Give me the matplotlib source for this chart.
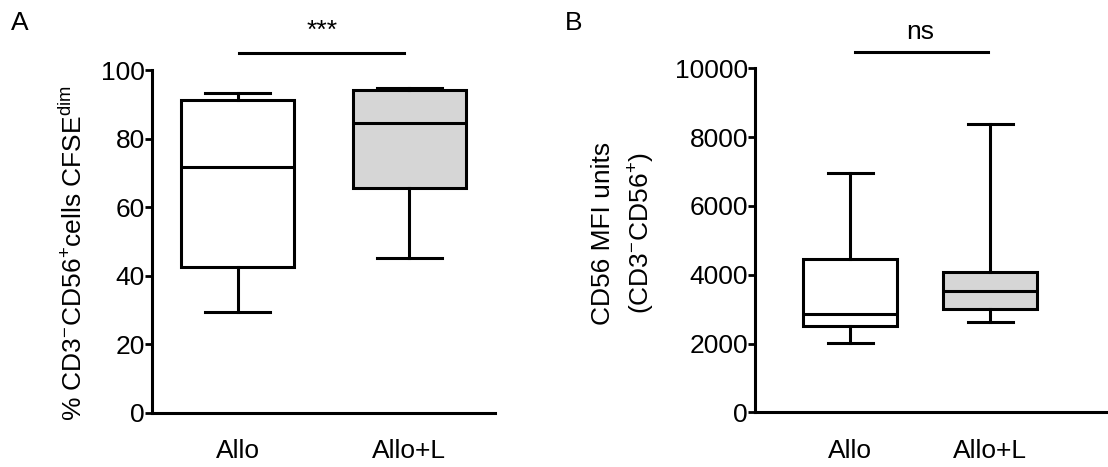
import matplotlib
matplotlib.use('Agg')
import matplotlib.pyplot as plt

plt.rcParams['font.family'] = ['Liberation Sans', 'DejaVu Sans']

groups = ['Allo', 'Allo+L']

# panel A: % CD3-CD56+ cells CFSE dim (whislo, q1, med, q3, whishi)
a_allo = [29.5, 42.4, 71.8, 91.2, 93.2]
a_allol = [45.2, 65.7, 84.6, 94.2, 94.7]

# panel B: CD56 MFI units
b_allo = [2006, 2509, 2849, 4456, 6948]
b_allol = [2625, 2994, 3526, 4087, 8390]

fills = ['white', '#d6d6d6']
FS = 19


def stats(vals, label):
    lo, q1, med, q3, hi = vals
    return dict(label=label, whislo=lo, q1=q1, med=med, q3=q3, whishi=hi, fliers=[])


def draw(ax, data, width, capw):
    lw = 2.2
    bp = ax.bxp([stats(v, g) for v, g in zip(data, groups)], positions=[1, 2],
                widths=width, patch_artist=True, showfliers=False,
                capwidths=capw,
                boxprops=dict(linewidth=lw, edgecolor='black'),
                medianprops=dict(color='black', linewidth=lw),
                whiskerprops=dict(color='black', linewidth=lw),
                capprops=dict(color='black', linewidth=lw))
    for patch, c in zip(bp['boxes'], fills):
        patch.set_facecolor(c)
    for s in ['top', 'right']:
        ax.spines[s].set_visible(False)
    for s in ['left', 'bottom']:
        ax.spines[s].set_linewidth(2.2)
    ax.tick_params(axis='y', labelsize=FS, width=2, length=5, pad=0)
    ax.tick_params(axis='x', labelsize=FS, length=0, pad=19)


fig = plt.figure(figsize=(11.08, 4.67), dpi=100)

axA = fig.add_axes([0.1372, 0.1163, 0.3096, 0.7338])
draw(axA, [a_allo, a_allol], 0.66, 0.38)
axA.set_xlim(0.5, 2.5)
axA.set_ylim(0, 100)
axA.set_yticks([0, 20, 40, 60, 80, 100])
axA.set_ylabel('% CD3$^{\\mathregular{-}}$CD56$^{\\mathregular{+}}$cells CFSE$^{\\mathregular{dim}}$',
               fontsize=FS)
axA.yaxis.set_label_coords(-0.19, 0.467)
axA.plot([1.01, 1.97], [104.9, 104.9], color='black', lw=2.2, clip_on=False)
axA.text(1.49, 111.5, '***', ha='center', va='center', fontsize=19)

axB = fig.add_axes([0.6814, 0.1171, 0.3186, 0.7366])
draw(axB, [b_allo, b_allol], 0.67, 0.32)
axB.set_xlim(0.32, 2.84)
axB.set_ylim(0, 10000)
axB.set_yticks([0, 2000, 4000, 6000, 8000, 10000])
axB.set_ylabel('CD56 MFI units\n(CD3$^{\\mathregular{-}}$CD56$^{\\mathregular{+}}$)',
               fontsize=FS, linespacing=1.45)
axB.yaxis.set_label_coords(-0.28, 0.52)
axB.plot([1.034, 1.986], [10483, 10483], color='black', lw=2.2, clip_on=False)
axB.text(1.5, 11050, 'ns', ha='center', va='center', fontsize=FS)

fig.text(0.0099, 0.95, 'A', fontsize=FS, ha='left', va='center')
fig.text(0.5099, 0.95, 'B', fontsize=FS, ha='left', va='center')

fig.savefig('out.png', dpi=100)
